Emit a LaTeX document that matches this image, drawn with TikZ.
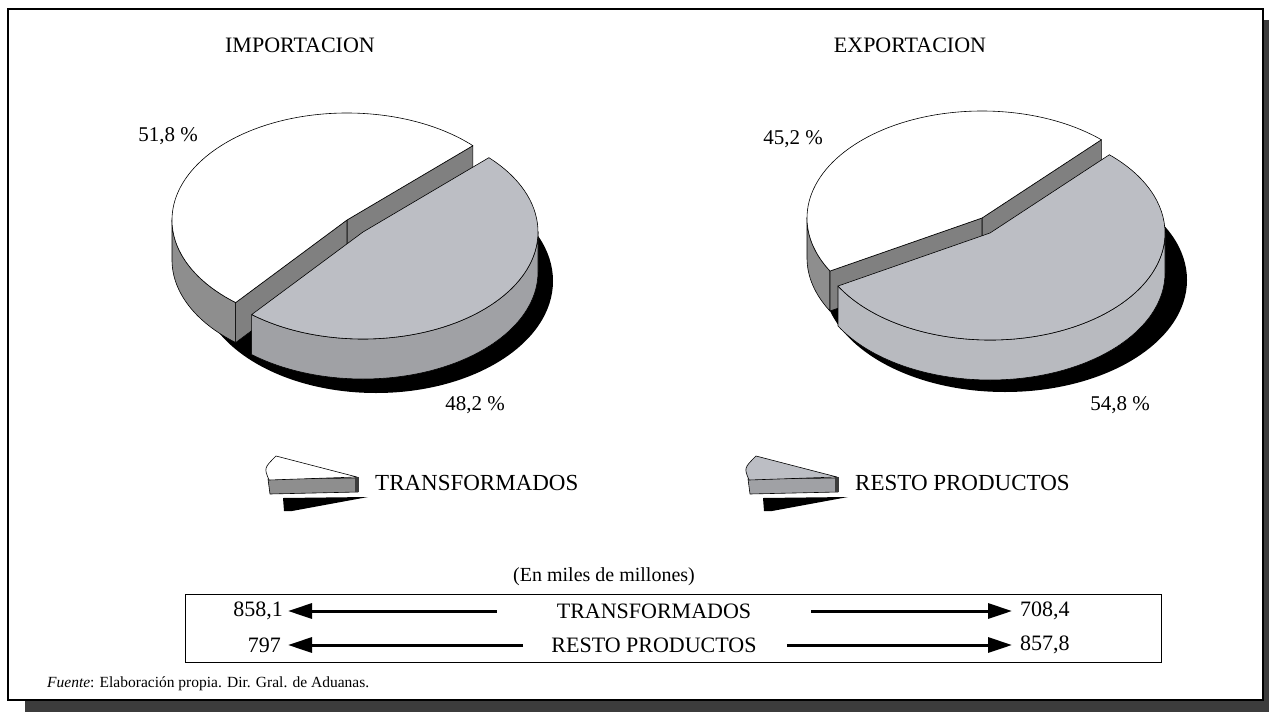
\documentclass[tikz,border=0pt]{standalone}
\usepackage{fontspec}
\setmainfont{Liberation Serif}
\usetikzlibrary{calc,arrows.meta}
\definecolor{shadowc}{HTML}{3C3C3C}
\definecolor{wallW}{HTML}{8E8E8E}
\definecolor{cutW}{HTML}{808080}
\definecolor{topG}{HTML}{BCBEC4}
\definecolor{wallGL}{HTML}{A0A1A5}
\definecolor{wallGR}{HTML}{B8BABF}
\begin{document}
\begin{tikzpicture}[x=1pt,y=-1pt,
  txt/.style={inner sep=0pt, font=\fontsize{22}{26}\selectfont},
  pct/.style={inner sep=0pt, font=\fontsize{21}{25}\selectfont},
  leg/.style={inner sep=0pt, font=\fontsize{23}{27}\selectfont, anchor=west},
  arr/.style={line width=3pt, -{Triangle[length=24pt,width=15pt]}},
  edge/.style={draw=black, line width=0.6pt, line join=round},
  el/.style={x radius=175pt, y radius=107pt}]
\useasboundingbox (0,0) rectangle (1269,712);
% frame with shadow
\fill[shadowc] (1264,20) rectangle (1269,712);
\fill[shadowc] (25,701) rectangle (1269,712);
\draw[line width=1.4pt] (8,9) rectangle (1263,700);

% titles
\node[txt] (imp) at (300,45) {IMPORTACION};
\node[txt] (exp) at (910,45) {EXPORTACION};

% ---------------- left pie ----------------
\coordinate (LA) at (347,220);
\coordinate (LG) at (363,232);
\fill[black] (376,281) ellipse [x radius=177pt, y radius=112pt];
% white slice
\filldraw[fill=wallW, edge] ($(LA)+(180:175pt and 107pt)$) arc[el, start angle=180, end angle=230.5] -- ++(0,40) arc[el, start angle=230.5, end angle=180] -- cycle;
\filldraw[fill=cutW, edge] (LA) -- ($(LA)+(44:175pt and 107pt)$) -- ++(0,40) -- ($(LA)+(0,40)$) -- cycle;
\filldraw[fill=cutW, edge] (LA) -- ($(LA)+(230.5:175pt and 107pt)$) -- ++(0,40) -- ($(LA)+(0,40)$) -- cycle;
\filldraw[fill=white, edge] (LA) -- ($(LA)+(44:175pt and 107pt)$) arc[el, start angle=44, end angle=230.5] -- cycle;
% grey slice
\filldraw[fill=wallGL, edge] ($(LG)+(230.5:175pt and 107pt)$) arc[el, start angle=230.5, end angle=360] -- ++(0,40) arc[el, start angle=360, end angle=230.5] -- cycle;
\filldraw[fill=topG, edge] (LG) -- ($(LG)+(230.5:175pt and 107pt)$) arc[el, start angle=230.5, end angle=404] -- cycle;

% ---------------- right pie ----------------
\coordinate (RA) at (982,218);
\coordinate (RG) at (990,233);
\fill[black] (1005,280) ellipse [x radius=182pt, y radius=112pt];
\filldraw[fill=wallW, edge] ($(RA)+(180:175pt and 107pt)$) arc[el, start angle=180, end angle=209.7] -- ++(0,40) arc[el, start angle=209.7, end angle=180] -- cycle;
\filldraw[fill=cutW, edge] (RA) -- ($(RA)+(47:175pt and 107pt)$) -- ++(0,40) -- ($(RA)+(0,40)$) -- cycle;
\filldraw[fill=cutW, edge] (RA) -- ($(RA)+(209.7:175pt and 107pt)$) -- ++(0,40) -- ($(RA)+(0,40)$) -- cycle;
\filldraw[fill=white, edge] (RA) -- ($(RA)+(47:175pt and 107pt)$) arc[el, start angle=47, end angle=209.7] -- cycle;
\filldraw[fill=wallGR, edge] ($(RG)+(209.7:175pt and 107pt)$) arc[el, start angle=209.7, end angle=360] -- ++(0,40) arc[el, start angle=360, end angle=209.7] -- cycle;
\filldraw[fill=topG, edge] (RG) -- ($(RG)+(209.7:175pt and 107pt)$) arc[el, start angle=209.7, end angle=407] -- cycle;

% percentages
\node[pct] (p1) at (168,136) {51,8 \%};
\node[pct] (p2) at (475,405) {48,2 \%};
\node[pct] (p3) at (793,139) {45,2 \%};
\node[pct] (p4) at (1120,405) {54,8 \%};

% legend icons
\fill[black] (283,498) -- (368,497) -- (292,511) -- (284,511) -- cycle;
\filldraw[fill=wallW, edge] (268,479) -- (358,478) -- (358,492) -- (270,494) -- cycle;
\fill[shadowc] (355,477) rectangle (359,492);
\filldraw[fill=white, edge] (276,456) -- (357,477) -- (269,480) .. controls (264,468) .. (276,456) -- cycle;
\node[leg] (l1) at (375,483) {TRANSFORMADOS};

\fill[black] (763,498) -- (848,497) -- (772,511) -- (764,511) -- cycle;
\filldraw[fill=wallGL, edge] (748,479) -- (838,478) -- (838,492) -- (750,494) -- cycle;
\fill[shadowc] (835,477) rectangle (839,492);
\filldraw[fill=topG, edge] (756,456) -- (837,477) -- (749,480) .. controls (744,468) .. (756,456) -- cycle;
\node[leg] (l2) at (855,483) {RESTO PRODUCTOS};

% value box
\node[inner sep=0pt, font=\fontsize{20}{24}\selectfont] (unit) at (604,577) {(En miles de millones)};
\draw[line width=1pt] (185,594) rectangle (1161,662);
\node[txt] (t1) at (654,611) {TRANSFORMADOS};
\node[txt, anchor=east] (i1) at (283,611) {858,1};
\node[txt, anchor=west] (e1) at (1020,611) {708,4};
\node[txt] (t2) at (654,645) {RESTO PRODUCTOS};
\node[txt, anchor=east] (i2) at (281,645) {797};
\node[txt, anchor=west] (e2) at (1020,645) {857,8};
\draw[arr, shorten <=60pt, shorten >=5pt] (t1) -- (i1);
\draw[arr, shorten <=60pt, shorten >=8pt] (t1) -- (e1);
\draw[arr, shorten <=28pt, shorten >=7pt] (t2) -- (i2);
\draw[arr, shorten <=30pt, shorten >=8pt] (t2) -- (e2);

% source
\node[inner sep=0pt, anchor=west, font=\fontsize{15.5}{18}\selectfont] (src) at (47,684) {\textit{Fuente}: Elaboración propia. Dir. Gral. de Aduanas.};
\end{tikzpicture}
\end{document}
